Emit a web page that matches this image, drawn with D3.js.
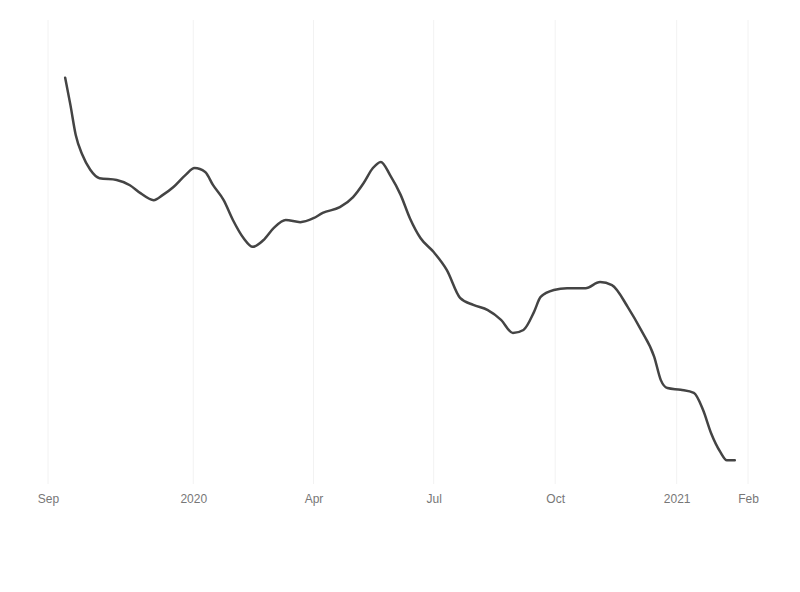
<!DOCTYPE html>
<html>
<head>
<meta charset="utf-8">
<script src="https://cdn.jsdelivr.net/npm/d3@7"></script>
<style>
  html, body { margin: 0; padding: 0; background: #fff; }
  svg { display: block; font-family: "Liberation Sans", "DejaVu Sans", sans-serif; }
</style>
</head>
<body>
<svg id="chart" width="800" height="592"></svg>
<script>
// ---- data ----
const dates = [
  "2019-09-26","2019-09-30","2019-10-04","2019-10-09","2019-10-15","2019-10-22","2019-11-04","2019-11-14",
  "2019-11-22","2019-12-02","2019-12-09","2019-12-17","2019-12-26","2020-01-02","2020-01-10","2020-01-16",
  "2020-01-24","2020-01-31","2020-02-08","2020-02-15","2020-02-23","2020-03-02","2020-03-11","2020-03-22",
  "2020-04-01","2020-04-08","2020-04-21","2020-05-01","2020-05-09","2020-05-16","2020-05-22","2020-05-29",
  "2020-06-06","2020-06-13","2020-06-21","2020-07-01","2020-07-11","2020-07-21","2020-07-31","2020-08-11",
  "2020-08-21","2020-08-30","2020-09-07","2020-09-15","2020-09-20","2020-09-30","2020-10-10","2020-10-24",
  "2020-11-04","2020-11-13","2020-11-25","2020-12-05","2020-12-15","2020-12-20","2020-12-25","2021-01-04",
  "2021-01-14","2021-01-21","2021-01-27","2021-02-03","2021-02-08","2021-02-14"
];
const values = [
  91.4,85.2,78.4,73.9,70.5,68.6,68.2,67.0,
  65.2,63.6,64.8,66.6,69.3,70.9,70.0,67.0,
  63.6,59.1,55.0,53.0,54.5,57.3,59.1,58.6,
  59.5,60.7,62.0,64.3,67.5,70.9,72.3,69.3,
  64.8,59.5,55.0,51.8,47.7,41.4,39.8,38.6,
  36.4,33.4,34.1,38.2,41.6,43.2,43.6,43.6,
  45.0,44.3,39.3,34.1,28.0,22.7,20.9,20.5,
  19.8,15.9,10.7,6.4,4.5,4.5
];
const domainDates = ["2019-09-13", "2021-02-24"];
const yDomain = [0, 100];
const tickDates = ["2019-09-13","2020-01-01","2020-04-01","2020-07-01","2020-10-01","2021-01-01","2021-02-24"];
const tickLabels = ["Sep","2020","Apr","Jul","Oct","2021","Feb"];

// ---- drawing ----
const parse = d3.utcParse("%Y-%m-%d");
const data = dates.map((d, i) => ({ date: parse(d), value: values[i] }));

const svg = d3.select("#chart");
const W = 800, H = 592;
const margin = { top: 40, right: 52, bottom: 112, left: 48 };

const x = d3.scaleUtc()
  .domain(domainDates.map(parse))
  .range([margin.left, W - margin.right]);
const y = d3.scaleLinear()
  .domain(yDomain)
  .range([H - margin.bottom, margin.top]);

const tickVals = tickDates.map(parse);

// faint vertical gridlines
svg.append("g")
  .selectAll("line")
  .data(tickVals)
  .join("line")
  .attr("x1", d => x(d)).attr("x2", d => x(d))
  .attr("y1", 20).attr("y2", H - margin.bottom + 4)
  .attr("stroke", "#f2f2f2")
  .attr("stroke-width", 1);

// x axis
const xAxis = d3.axisBottom(x)
  .tickValues(tickVals)
  .tickSize(0)
  .tickPadding(10)
  .tickFormat((d, i) => tickLabels[i]);

svg.append("g")
  .attr("transform", `translate(0,${H - margin.bottom + 4})`)
  .call(xAxis)
  .call(g => g.select(".domain").remove())
  .call(g => g.selectAll("text")
    .attr("fill", "#777")
    .attr("font-size", 12));

// line
const line = d3.line()
  .x(d => x(d.date))
  .y(d => y(d.value))
  .curve(d3.curveMonotoneX);

svg.append("path")
  .datum(data)
  .attr("fill", "none")
  .attr("stroke", "#444")
  .attr("stroke-width", 2.5)
  .attr("stroke-linejoin", "round")
  .attr("stroke-linecap", "round")
  .attr("d", line);
</script>
</body>
</html>
